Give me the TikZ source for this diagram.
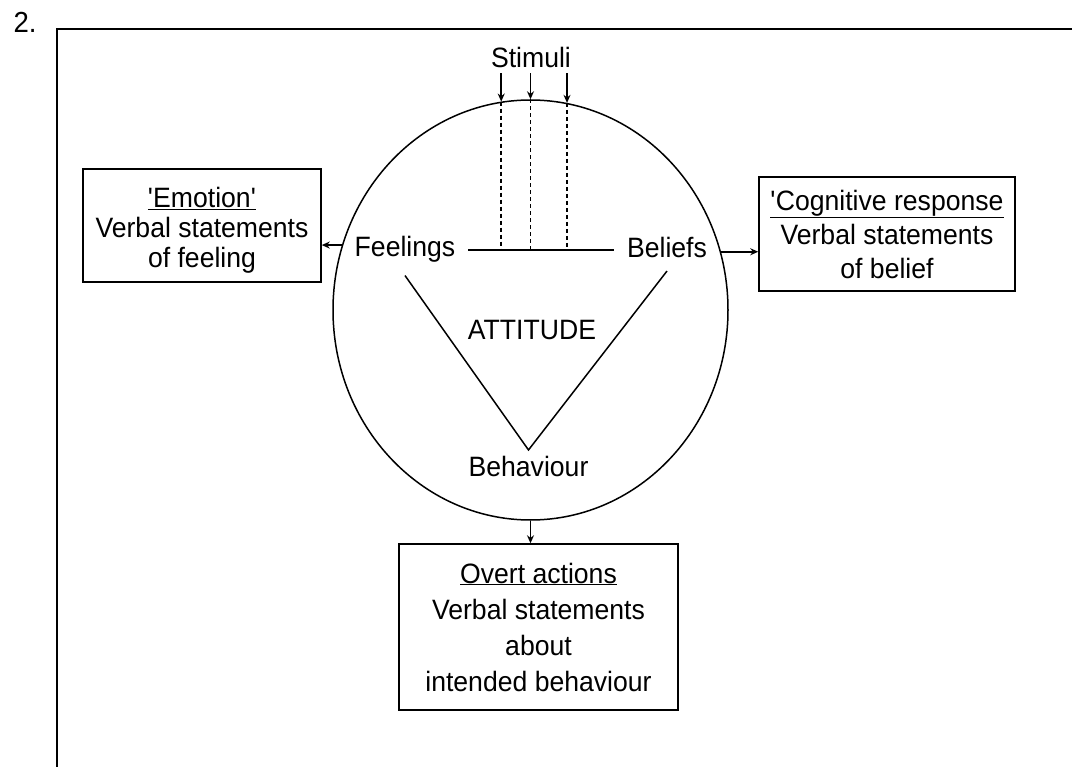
\documentclass[tikz,border=0pt]{standalone}
\usepackage{fontspec}
\setmainfont{Liberation Sans}[FakeStretch=0.95]
\usetikzlibrary{shapes.geometric, arrows.meta, positioning}

\begin{document}
\begin{tikzpicture}[x=1pt, y=-1pt, line width=1.5pt,
  every node/.style={font=\fontsize{28}{30}\selectfont},
  word/.style={anchor=base, inner sep=12pt},
  box/.style={draw, rectangle, align=center, inner sep=0pt},
  arr/.style={-{Stealth[length=8pt, width=7pt]}},
  ray/.style={dash pattern=on 4pt off 3pt}]
\useasboundingbox (0,0) rectangle (1072,767);

% frame, open to the right and below
\draw[line width=2.3pt] (57,767) -- (57,29) -- (1072,29);
\node[anchor=base, font=\fontsize{29}{30}\selectfont] (num) at (25,33) {2.};

\node[ellipse, draw, minimum width=395pt, minimum height=420pt, inner sep=0pt] (attitude) at (530.5,310) {};

\node[anchor=base, inner sep=4pt] (stimuli) at (531,68) {Stimuli};
\node[word] (feelings) at (405,257) {Feelings};
\node[word] (beliefs) at (667,258) {Beliefs};
\node[anchor=base] (attlabel) at (532,340) {ATTITUDE};
\node[word, inner sep=6pt] (behaviour) at (528.5,477) {Behaviour};

\node[box, minimum width=238pt, minimum height=113pt] (emotion) at (202,225.5)
  {\rule{0pt}{30pt}\underline{\textquotesingle Emotion\textquotesingle}\\Verbal statements\\of feeling};
\node[box, minimum width=256pt, minimum height=114pt, font=\fontsize{28}{34}\selectfont] (cognitive) at (887,234)
  {\underline{\textquotesingle Cognitive response}\\Verbal statements\\of belief};
\node[box, minimum width=279pt, minimum height=166pt, font=\fontsize{28}{36}\selectfont] (overt) at (538.5,627)
  {\underline{Overt actions}\\Verbal statements\\about\\intended behaviour};

% stimuli coming in from the top
\foreach \a in {98.4, 90, 80.25} {
  \draw[arr] (stimuli.south -| attitude.\a) -- (attitude.\a);
  \draw[ray] (attitude.\a) -- (attitude.\a |- feelings.east);
}
\draw (feelings.east) -- (feelings.east -| beliefs.west);

% the triangle
\coordinate (apex) at (behaviour.north);
\draw (feelings.south) -- (apex) -- (beliefs.south);

% responses
\draw[arr] (attitude.161.8) -- (attitude.161.8 -| emotion.east);
\draw[arr] (attitude.17) -- (attitude.17 -| cognitive.west);
\draw[arr] (attitude.south) -- (attitude.south |- overt.north);
\end{tikzpicture}
\end{document}
